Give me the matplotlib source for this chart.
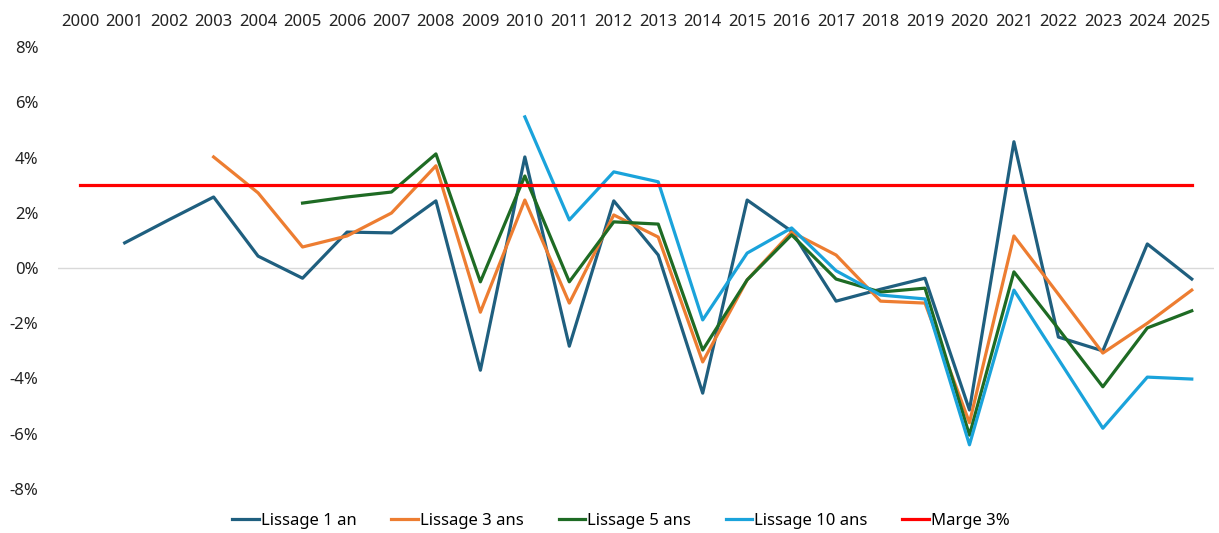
import matplotlib.pyplot as plt
import numpy as np
from matplotlib.font_manager import FontProperties

years = list(range(2000, 2026))

# valeurs (en %), None = pas de donnée
lissage_1 = [None, 0.91, 1.75, 2.57, 0.43, -0.37, 1.30, 1.27, 2.43, -3.70,
             4.02, -2.83, 2.43, 0.47, -4.53, 2.46, 1.33, -1.20, -0.77, -0.37,
             -5.14, 4.57, -2.50, -3.00, 0.87, -0.40]
lissage_3 = [None, None, None, 4.02, 2.72, 0.76, 1.16, 1.99, 3.70, -1.60,
             2.46, -1.27, 1.92, 1.12, -3.40, -0.43, 1.30, 0.47, -1.20, -1.27,
             -5.60, 1.16, -0.95, -3.08, -2.00, -0.80]
lissage_5 = [None, None, None, None, None, 2.35, 2.57, 2.75, 4.13, -0.50,
             3.33, -0.50, 1.67, 1.59, -2.97, -0.43, 1.20, -0.40, -0.87, -0.73,
             -6.05, -0.14, -2.20, -4.30, -2.17, -1.55]
lissage_10 = [None] * 10 + [5.47, 1.74, 3.48, 3.12, -1.88, 0.54, 1.45, -0.10,
                            -0.98, -1.12, -6.40, -0.80, -3.30, -5.80, -3.95, -4.02]
marge = [3.0] * len(years)

series = [
    ("Lissage 1 an", lissage_1, "#1f5f7f"),
    ("Lissage 3 ans", lissage_3, "#ed7d31"),
    ("Lissage 5 ans", lissage_5, "#1e6b24"),
    ("Lissage 10 ans", lissage_10, "#1aa3db"),
    ("Marge 3%", marge, "#ff0000"),
]

plt.rcParams["font.family"] = ["Noto Sans", "DejaVu Sans"]

fig = plt.figure(figsize=(12.19, 5.33), dpi=100)
ax = fig.add_axes([58 / 1219, 1 - 489 / 533, 1156 / 1219, 442 / 533])

x = np.arange(len(years))
for label, vals, color in series:
    y = np.array([np.nan if v is None else v for v in vals], dtype=float)
    ax.plot(x, y, color=color, lw=2.3, label=label)

ax.axhline(0, color="#d9d9d9", lw=1, zorder=0)
ax.set_xlim(-0.5, len(years) - 0.5)
ax.set_ylim(-8, 8)
ax.set_yticks(np.arange(-8, 9, 2))
ax.set_yticklabels([f"{v}%" for v in range(-8, 9, 2)], fontsize=12, color="#222222")
ax.set_xticks(x)
ax.set_xticklabels([str(yr) for yr in years], fontsize=12, color="#222222")
ax.xaxis.tick_top()
ax.tick_params(axis="both", length=0)
ax.tick_params(axis="x", pad=12)
ax.tick_params(axis="y", pad=14)
for s in ax.spines.values():
    s.set_visible(False)

leg_font = FontProperties(family=["Noto Sans", "DejaVu Sans"], stretch="condensed", size=12)
ax.legend(loc="center", bbox_to_anchor=(0.487, -0.072), ncol=5, frameon=False,
          prop=leg_font, handlelength=1.6, handletextpad=0.1, columnspacing=2.1)

fig.savefig("out.png", dpi=100)
